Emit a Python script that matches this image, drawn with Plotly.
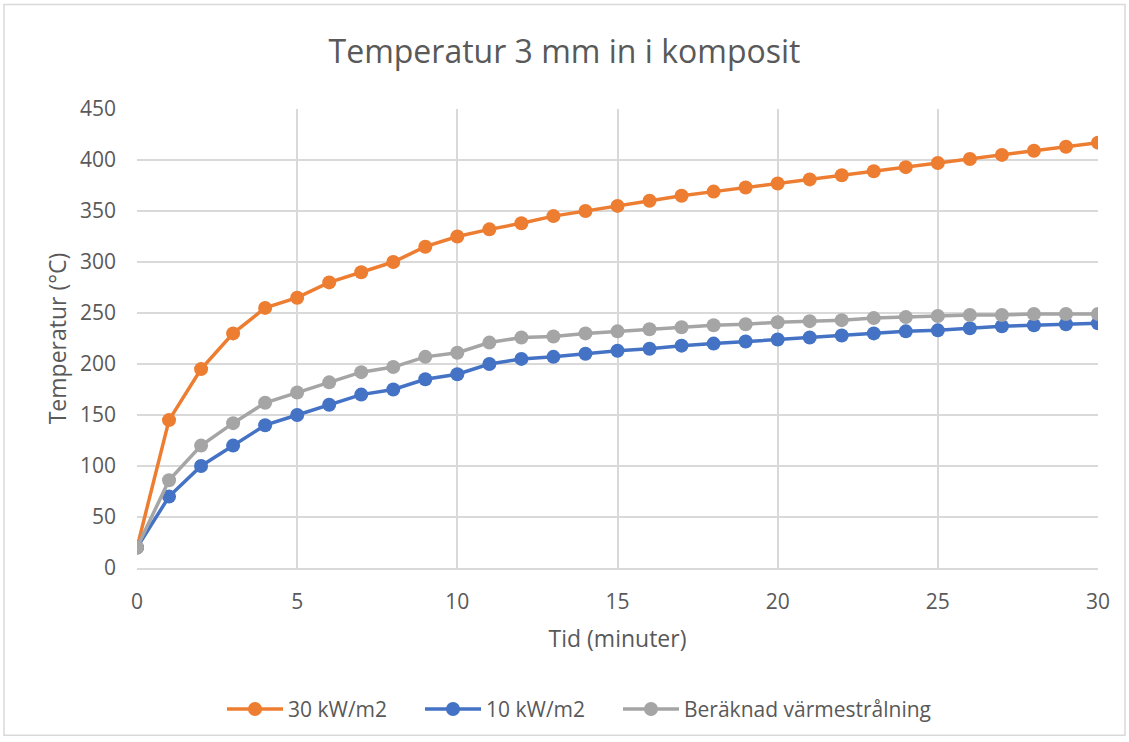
import plotly.graph_objects as go

minutes = list(range(0, 31))
kw30 = [20, 145, 195, 230, 255, 265, 280, 290, 300, 315, 325, 332, 338, 345, 350, 355,
        360, 365, 369, 373, 377, 381, 385, 389, 393, 397, 401, 405, 409, 413, 417]
kw10 = [20, 70, 100, 120, 140, 150, 160, 170, 175, 185, 190, 200, 205, 207, 210, 213,
        215, 218, 220, 222, 224, 226, 228, 230, 232, 233, 235, 237, 238, 239, 240]
calc = [20, 86, 120, 142, 162, 172, 182, 192, 197, 207, 211, 221, 226, 227, 230, 232,
        234, 236, 238, 239, 241, 242, 243, 245, 246, 247, 248, 248, 249, 249, 249]

series = [("30 kW/m2", kw30, "#ED7D31", "legend"),
          ("10 kW/m2", kw10, "#4472C4", "legend2"),
          ("Beräknad värmestrålning", calc, "#A5A5A5", "legend3")]

fig = go.Figure()
for name, vals, col, leg in series:
    fig.add_trace(go.Scatter(x=minutes, y=vals, name=name, mode="lines+markers",
                             line=dict(color=col, width=3.5),
                             marker=dict(color=col, size=14), legend=leg))

W, H = 1129, 742
L, R, T, B = 137, 31, 109, 172
pw, ph = W - L - R, H - T - B

font_fam = "Open Sans, Liberation Sans, sans-serif"
txt = "#595959"

legend_starts = [227, 425, 623]


def leg(px):
    return dict(orientation="h", x=(px - L - 5) / pw, xanchor="left",
                y=-(712 - 570) / ph, yanchor="middle",
                font=dict(size=21, color=txt), itemwidth=56,
                bgcolor="rgba(0,0,0,0)")


fig.update_layout(
    width=W, height=H,
    margin=dict(l=L, r=R, t=T, b=B),
    paper_bgcolor="white", plot_bgcolor="white",
    font=dict(family=font_fam, color=txt, size=21),
    title=dict(text="Temperatur 3 mm in i komposit", x=0.5, xanchor="center",
               y=1 - 52 / H, yanchor="middle",
               font=dict(size=32, color=txt, family=font_fam)),
    xaxis=dict(range=[0, 30], tickmode="linear", tick0=0, dtick=5,
               showgrid=True, gridcolor="#D9D9D9", gridwidth=1.5,
               zeroline=False, showline=True, linecolor="#D9D9D9", linewidth=1.5,
               ticks="", ticklabelstandoff=14, tickfont=dict(size=21, color=txt),
               title=dict(text="Tid (minuter)", font=dict(size=23, color=txt),
                          standoff=17)),
    yaxis=dict(range=[0, 450], tickmode="linear", tick0=0, dtick=50,
               showgrid=True, gridcolor="#D9D9D9", gridwidth=1.5,
               zeroline=False, showline=False, ticks="", ticklabelstandoff=20,
               tickfont=dict(size=21, color=txt),
               title=dict(text="Temperatur (°C)", font=dict(size=23, color=txt),
                          standoff=6)),
    legend=leg(legend_starts[0]),
    legend2=leg(legend_starts[1]),
    legend3=leg(legend_starts[2]),
    showlegend=True,
)

fig.add_shape(type="rect", xref="paper", yref="paper",
              x0=(-L + 4) / pw, x1=1 + (R - 4) / pw,
              y0=-(B - 4) / ph, y1=1 + (T - 4) / ph,
              line=dict(color="#D9D9D9", width=1.5), fillcolor="rgba(0,0,0,0)",
              layer="below")

fig.write_html("out.html")
